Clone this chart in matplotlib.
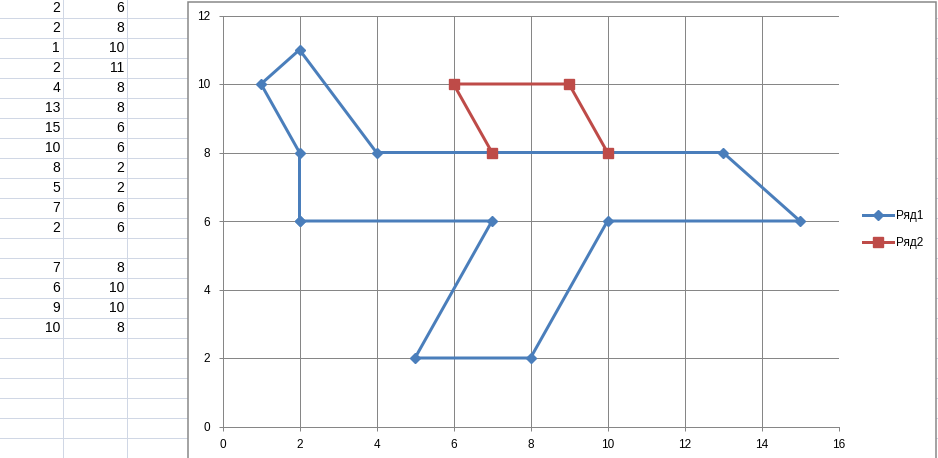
import matplotlib
matplotlib.use("Agg")
import matplotlib.pyplot as plt
from matplotlib.patches import Rectangle

# Data
x1 = [2, 2, 1, 2, 4, 13, 15, 10, 8, 5, 7, 2]
y1 = [6, 8, 10, 11, 8, 8, 6, 6, 2, 2, 6, 6]
x2 = [7, 6, 9, 10]
y2 = [8, 10, 10, 8]
series_names = ["Ряд1", "Ряд2"]
xticks = [0, 2, 4, 6, 8, 10, 12, 14, 16]
yticks = [0, 2, 4, 6, 8, 10, 12]

W, H = 938, 458
DPI = 100
px = 72.0 / DPI
plt.rcParams['font.family'] = ['Liberation Sans', 'DejaVu Sans']

fig = plt.figure(figsize=(W / DPI, H / DPI), dpi=DPI)
fig.patch.set_facecolor('white')

# Background spreadsheet
bg = fig.add_axes([0, 0, 1, 1])
bg.set_xlim(0, W)
bg.set_ylim(H, 0)
bg.axis('off')
grid_c = '#D0D7E5'
for k in range(23):
    yy = 17.5 + 20 * k
    bg.plot([0, W], [yy, yy], color=grid_c, lw=1 * px, zorder=1)
for xx in [62.5, 126.5]:
    bg.plot([xx, xx], [0, H], color=grid_c, lw=1 * px, zorder=1)

rows = list(zip(x1, y1)) + [None] + list(zip(x2, y2))
for k, r in enumerate(rows):
    if r is None:
        continue
    yc = 7.5 + 20 * k
    bg.text(60, yc, str(r[0]), ha='right', va='center', fontsize=10, color='black', zorder=2)
    bg.text(124, yc, str(r[1]), ha='right', va='center', fontsize=10, color='black', zorder=2)

# Chart frame
bg.add_patch(Rectangle((188, 1.5), 935.5 - 188, H + 10, facecolor='white',
                       edgecolor='#868686', lw=1.5 * px, zorder=3))

# Plot area
l, r_, t, b = 222.5, 838.5, 15.5, 426.5
ax = fig.add_axes([l / W, (H - b) / H, (r_ - l) / W, (b - t) / H])
ax.set_zorder(5)
ax.patch.set_alpha(0)
ax.set_xlim(0, 16)
ax.set_ylim(0, 12)
ax.set_xticks(xticks)
ax.set_yticks(yticks)
ax.grid(True, color='#868686', lw=1 * px)
ax.set_axisbelow(True)
for s in ['top', 'right']:
    ax.spines[s].set_visible(False)
for s in ['left', 'bottom']:
    ax.spines[s].set_color('#868686')
    ax.spines[s].set_linewidth(1 * px)
ax.tick_params(axis='both', direction='out', length=4 * px * 1.0 / px * px, width=1 * px,
               color='#868686', labelsize=8.5, labelcolor='black', pad=6)

ax.plot(x1, y1, color='#4A7EBB', lw=3 * px, marker='D', markersize=7 * px,
        markeredgecolor='#4A7EBB', label=series_names[0], solid_joinstyle='miter', zorder=3)
ax.plot(x2, y2, color='#BE4B48', lw=3 * px, marker='s', markersize=9.5 * px,
        markeredgecolor='#BE4B48', label=series_names[1], solid_joinstyle='miter', zorder=4)
for sp in ax.spines.values():
    sp.set_zorder(2)

leg = fig.legend(loc='upper left', bbox_to_anchor=(858 / W, 1 - 205 / H), frameon=False,
                 fontsize=8.5, handlelength=2.6, handletextpad=0.25, labelspacing=1.3,
                 borderaxespad=0)
leg.set_zorder(10)

fig.savefig('out.png', dpi=DPI, facecolor='white')
